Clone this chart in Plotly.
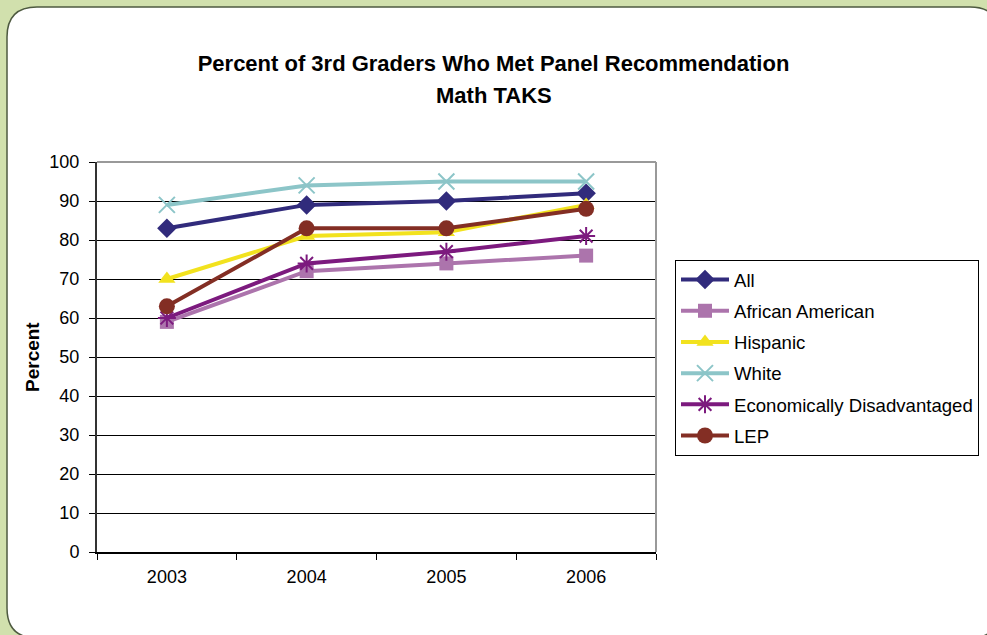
import plotly.graph_objects as go

years = ["2003", "2004", "2005", "2006"]
series_names = ["All", "African American", "Hispanic", "White",
                "Economically Disadvantaged", "LEP"]
all_vals = [83, 89, 90, 92]
african_american = [59, 72, 74, 76]
hispanic = [70, 81, 82, 89]
white = [89, 94, 95, 95]
econ_disadv = [60, 74, 77, 81]
lep = [63, 83, 83, 88]
y_ticks = list(range(0, 101, 10))

values = [all_vals, african_american, hispanic, white, econ_disadv, lep]
colors = ["#312B7C", "#AC74AC", "#F2E21E", "#8CC5C8", "#7C1A7E", "#832E24"]
symbols = ["diamond", "square", "triangle-up", "x-thin-open", "asterisk-open", "circle"]
sizes = [15, 14, 15, 16, 15, 16]

W, H = 987, 635
L, R, T, B = 97, 656, 162, 552
pw, ph = R - L, B - T

def px(x):
    return (x - L) / pw

def py(y):
    return (B - y) / ph

FONT = "Liberation Sans, Arial"

fig = go.Figure()
for i, (name, vals) in enumerate(zip(series_names, values)):
    open_sym = symbols[i].endswith("open")
    fig.add_trace(go.Scatter(
        x=years, y=vals, name=name, mode="lines+markers",
        legendgroup=name,
        line=dict(color=colors[i], width=4),
        marker=dict(symbol=symbols[i], size=sizes[i], color=colors[i],
                    line=dict(color=colors[i], width=2 if open_sym else 0)),
    ))

# rounded white panel on green background
x0, y0, x1, y1, r = px(7), py(7), px(1000), py(638), 30
rx, ry = r / pw, r / ph
path = (f"M{x0},{y0 - ry} "
        f"Q{x0},{y0} {x0 + rx},{y0} "
        f"L{x1 - rx},{y0} "
        f"Q{x1},{y0} {x1},{y0 - ry} "
        f"L{x1},{y1 + ry} "
        f"Q{x1},{y1} {x1 - rx},{y1} "
        f"L{x0 + rx},{y1} "
        f"Q{x0},{y1} {x0},{y1 + ry} Z")
fig.add_shape(type="path", path=path, xref="paper", yref="paper",
              fillcolor="white", line=dict(color="#4E5A40", width=1.5), layer="below")
# gray top/right border of plot area
fig.add_shape(type="line", xref="paper", yref="paper", x0=0, x1=1, y0=1, y1=1,
              line=dict(color="#999999", width=2))
fig.add_shape(type="line", xref="paper", yref="paper", x0=1, x1=1, y0=0, y1=1,
              line=dict(color="#999999", width=2))

fig.add_annotation(text="<b>Percent</b>", textangle=-90, xref="paper", yref="paper",
                   x=px(32), y=py(357), showarrow=False, xanchor="center",
                   font=dict(family=FONT, size=19, color="black"))
fig.add_annotation(text="<b>Math TAKS</b>", xref="paper", yref="paper",
                   x=px(493.5), y=py(96), showarrow=False,
                   xanchor="center", yanchor="middle",
                   font=dict(family=FONT, size=22, color="black"))

fig.update_layout(
    width=W, height=H,
    margin=dict(l=L, r=W - R, t=T, b=H - B, pad=0, autoexpand=False),
    paper_bgcolor="#D1E0AD",
    plot_bgcolor="white",
    font=dict(family=FONT, size=18, color="black"),
    title=dict(text="<b>Percent of 3rd Graders Who Met Panel Recommendation</b>",
               x=0.5, xanchor="center", xref="container",
               y=1 - 63 / H, yanchor="middle", yref="container",
               font=dict(size=22, color="black")),
    xaxis=dict(type="category", range=[-0.5, 3.5], tickson="boundaries",
               ticks="outside", ticklen=6, tickcolor="black", tickwidth=1,
               showline=True, linecolor="black", linewidth=1.5,
               showgrid=False, zeroline=False, ticklabelstandoff=8,
               tickfont=dict(size=18)),
    yaxis=dict(range=[0, 100], tickvals=y_ticks, ticks="outside", ticklen=6,
               tickcolor="black", showline=True, linecolor="#333333", linewidth=2,
               showgrid=True, gridcolor="black", gridwidth=1, zeroline=False,
               ticklabelstandoff=6, tickfont=dict(size=18)),
    legend=dict(x=px(675), y=py(260), xanchor="left", yanchor="top",
                bordercolor="black", borderwidth=1, bgcolor="white",
                font=dict(size=18.6), tracegroupgap=4, itemwidth=48,
                traceorder="grouped"),
    showlegend=True,
)

fig.write_html("out.html", config={"displayModeBar": False},
               post_script="document.body.style.margin='0';document.body.style.overflow='hidden';")
